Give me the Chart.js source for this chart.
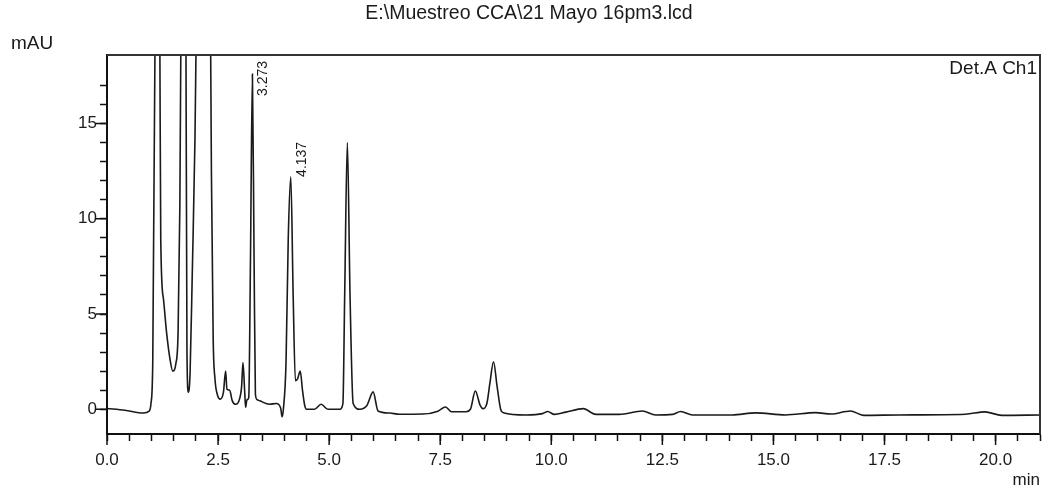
<!DOCTYPE html>
<html>
<head>
<meta charset="utf-8">
<title>Cromatograma</title>
<script src="https://cdn.jsdelivr.net/npm/chart.js@4.4.1/dist/chart.umd.min.js"></script>
<style>
    html, body { margin: 0; padding: 0; background: #fff; }
    #wrap { width: 1044px; height: 487px; }
</style>
</head>
<body>
<div id="wrap"><canvas id="chromChart" width="1044" height="487"></canvas></div>
<script>
// retention time (min) and detector signal (mAU)
const times = [
    0.00, 0.40, 0.82, 0.95, 0.99, 1.03, 1.08, 1.13, 1.19, 1.21,
    1.27, 1.34, 1.42, 1.48, 1.55, 1.60, 1.64, 1.67, 1.72, 1.77,
    1.80, 1.83, 1.87, 1.92, 1.98, 2.02, 2.10, 2.18, 2.27, 2.33,
    2.35, 2.39, 2.43, 2.48, 2.55, 2.62, 2.67, 2.70, 2.76, 2.82,
    2.90, 2.97, 3.03, 3.06, 3.10, 3.12, 3.15, 3.19, 3.23, 3.273,
    3.31, 3.34, 3.38, 3.44, 3.66, 3.81, 3.91, 3.94, 3.97, 4.03,
    4.08, 4.137, 4.19, 4.24, 4.29, 4.35, 4.40, 4.45, 4.49, 4.67,
    4.82, 4.97, 5.24, 5.31, 5.35, 5.41, 5.47, 5.54, 5.69, 5.85,
    5.99, 6.10, 6.36, 6.58, 7.11, 7.45, 7.62, 7.75, 8.08, 8.18,
    8.29, 8.40, 8.46, 8.55, 8.62, 8.70, 8.78, 8.86, 8.92, 9.43,
    9.80, 9.92, 10.07, 10.33, 10.72, 11.00, 11.53, 12.05, 12.35, 12.73,
    12.91, 13.18, 13.78, 14.07, 14.60, 15.27, 15.95, 16.30, 16.73, 17.03,
    17.82, 19.32, 19.76, 20.14, 21.00
];
const signal = [
    0.04, -0.05, -0.20, -0.10, 0.30, 2.5, 19.0, 45.0, 19.0, 8.9,
    5.8, 4.05, 2.6, 2.0, 2.4, 4.05, 10.7, 22.0, 50.0, 25.0,
    3.0, 0.9, 1.9, 7.2, 14.2, 22.0, 30.0, 33.0, 30.0, 20.0,
    12.5, 3.7, 1.6, 0.8, 0.53, 0.88, 2.0, 1.05, 1.0, 0.44,
    0.26, 0.44, 1.2, 2.45, 0.88, 0.10, 0.50, 0.60, 8.0, 17.6,
    8.0, 0.8, 0.5, 0.44, 0.26, 0.30, 0.05, -0.40, 0.0, 2.5,
    9.0, 12.2, 6.0, 1.5, 1.6, 2.0, 1.0, 0.2, 0.0, 0.0,
    0.26, 0.0, 0.0, 0.3, 6.0, 14.0, 6.0, 0.3, 0.0, 0.2,
    0.91, -0.09, -0.20, -0.26, -0.25, -0.10, 0.12, -0.13, -0.13, 0.0,
    0.96, 0.2, 0.03, 0.3, 1.4, 2.49, 1.2, 0.0, -0.18, -0.30,
    -0.23, -0.12, -0.27, -0.15, 0.03, -0.27, -0.27, -0.09, -0.30, -0.27,
    -0.12, -0.30, -0.30, -0.30, -0.19, -0.30, -0.18, -0.25, -0.09, -0.32,
    -0.30, -0.26, -0.14, -0.32, -0.30
];

const peakTimes = [3.273, 4.137];
const peakHeights = [17.6, 12.2];
const peakLabels = ['3.273', '4.137'];

const xTickLabels = [0, 2.5, 5, 7.5, 10, 12.5, 15, 17.5, 20];
const yTickLabels = [0, 5, 10, 15];

const chartTitle = 'E:\\Muestreo CCA\\21 Mayo 16pm3.lcd';
const yUnit = 'mAU';
const xUnit = 'min';
const channel = 'Det.A Ch1';

const FONT = '"Liberation Sans", Arial, sans-serif';
const INK = '#1a1a1a';

function isIn(list, v) {
    return list.some(t => Math.abs(t - v) < 1e-6);
}

// box, longer major ticks and all the printout text
const printoutPlugin = {
    id: 'printout',
    afterDraw(chart) {
        const ctx = chart.ctx;
        const a = chart.chartArea;
        const xs = chart.scales.x;
        const ys = chart.scales.y;

        ctx.save();
        ctx.strokeStyle = '#333';
        ctx.lineWidth = 2;
        ctx.beginPath();
        ctx.moveTo(a.left, a.top);
        ctx.lineTo(a.right, a.top);
        ctx.lineTo(a.right, a.bottom);
        ctx.stroke();

        ctx.strokeStyle = '#111';
        ctx.lineWidth = 1.5;
        ctx.beginPath();
        xTickLabels.forEach(v => {
            const px = xs.getPixelForValue(v);
            ctx.moveTo(px, a.bottom);
            ctx.lineTo(px, a.bottom + 11);
        });
        yTickLabels.forEach(v => {
            const py = ys.getPixelForValue(v);
            ctx.moveTo(a.left, py);
            ctx.lineTo(a.left - 11, py);
        });
        ctx.stroke();

        ctx.fillStyle = INK;
        ctx.textBaseline = 'middle';
        ctx.font = '19.5px ' + FONT;
        ctx.textAlign = 'center';
        ctx.fillText(chartTitle, 529, 14);
        ctx.font = '19px ' + FONT;
        ctx.textAlign = 'left';
        ctx.fillText(yUnit, 11, 44);
        ctx.textAlign = 'right';
        ctx.fillText(channel, 1037, 69);
        ctx.font = '17px ' + FONT;
        ctx.fillText(xUnit, 1040, 480);

        ctx.font = '14px ' + FONT;
        peakTimes.forEach((t, i) => {
            const px = xs.getPixelForValue(t) + 11;
            const w = ctx.measureText(peakLabels[i]).width;
            let py = ys.getPixelForValue(peakHeights[i]);
            if (py - w < a.top + 6) py = a.top + 6 + w;
            ctx.save();
            ctx.translate(px, py);
            ctx.rotate(-Math.PI / 2);
            ctx.textAlign = 'left';
            ctx.fillText(peakLabels[i], 0, 0);
            ctx.restore();
        });
        ctx.restore();
    }
};

new Chart(document.getElementById('chromChart').getContext('2d'), {
    type: 'line',
    data: {
        datasets: [{
            label: channel,
            data: times.map((t, i) => ({ x: t, y: signal[i] })),
            borderColor: INK,
            borderWidth: 1.6,
            pointRadius: 0,
            fill: false,
            cubicInterpolationMode: 'monotone'
        }]
    },
    options: {
        responsive: false,
        animation: false,
        devicePixelRatio: 1,
        layout: { padding: { top: 55, right: 4, left: 0, bottom: 0 } },
        plugins: {
            legend: { display: false },
            tooltip: { enabled: false }
        },
        scales: {
            x: {
                type: 'linear',
                min: 0,
                max: 21,
                ticks: {
                    stepSize: 0.5,
                    autoSkip: false,
                    maxRotation: 0,
                    padding: 9,
                    color: INK,
                    font: { family: FONT, size: 17 },
                    callback: v => isIn(xTickLabels, v) ? v.toFixed(1) : ''
                },
                grid: { drawOnChartArea: false, drawTicks: true, tickLength: 7, tickColor: '#111', tickWidth: 1.5 },
                border: { display: true, color: '#111', width: 2 },
                afterFit: s => {
                    s.height = 53;
                    s.paddingLeft = 0;
                    s.paddingRight = 0;
                }
            },
            y: {
                min: -1.3,
                max: 18.6,
                ticks: {
                    stepSize: 1,
                    autoSkip: false,
                    padding: 3,
                    color: INK,
                    font: { family: FONT, size: 17 },
                    callback: v => isIn(yTickLabels, v) ? String(v) : ''
                },
                afterBuildTicks: s => {
                    s.ticks = s.ticks.filter(t => Math.abs(t.value - Math.round(t.value)) < 1e-6);
                },
                grid: { drawOnChartArea: false, drawTicks: true, tickLength: 7, tickColor: '#111', tickWidth: 1.5 },
                border: { display: true, color: '#111', width: 2 },
                afterFit: s => {
                    s.width = 107;
                    s.paddingTop = 0;
                    s.paddingBottom = 0;
                }
            }
        }
    },
    plugins: [printoutPlugin]
});
</script>
</body>
</html>
